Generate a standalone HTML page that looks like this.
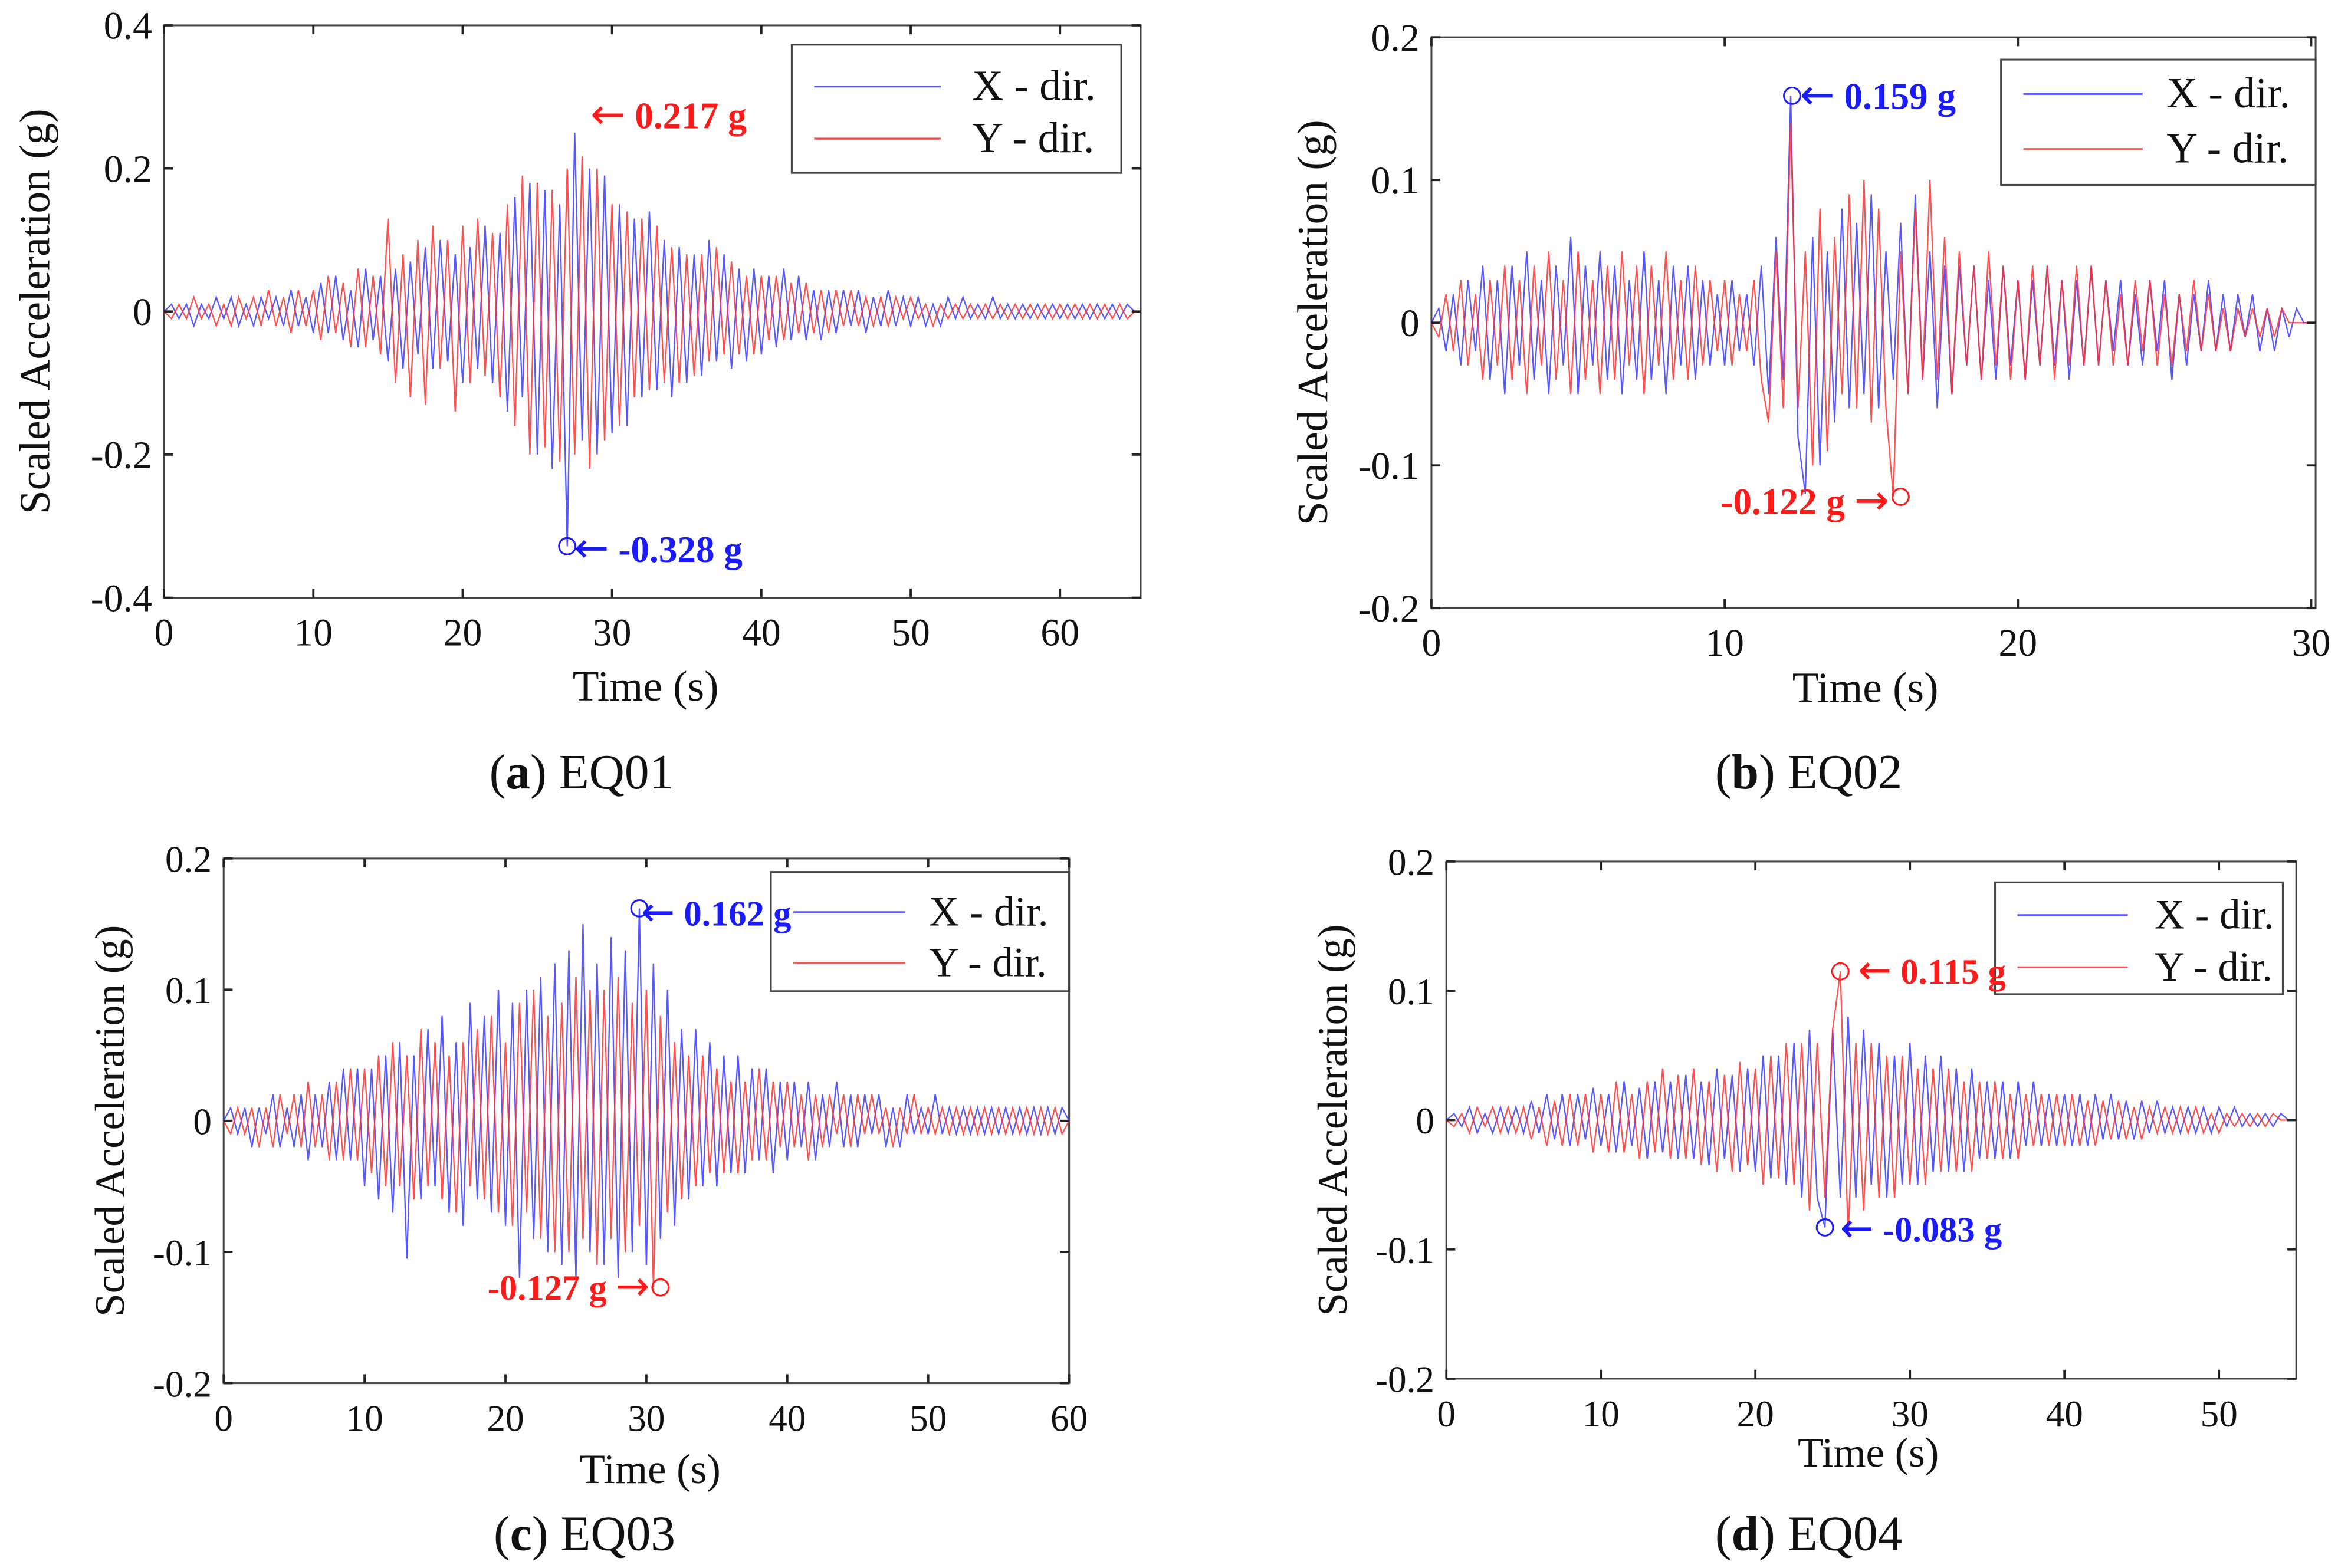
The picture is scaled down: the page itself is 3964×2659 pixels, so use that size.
<!DOCTYPE html>
<html><head><meta charset="utf-8">
<style>
html,body{margin:0;padding:0;background:#fff;}
svg{display:block;}
text{font-family:"Liberation Serif",serif;}
</style></head>
<body>
<svg id="fig" width="3964" height="2659" viewBox="0 0 1568 1052" preserveAspectRatio="none" xmlns="http://www.w3.org/2000/svg" font-family="Liberation Serif, serif"></svg>
<script>
// ---------- data (values in g) ----------
const eq01X = [0,0.01,-0.01,0.01,-0.02,0.01,-0.01,0.02,-0.01,0.02,
 -0.02,0.01,-0.02,0.02,-0.01,0.02,-0.02,0.03,-0.02,0.02,
 -0.03,0.04,-0.03,0.05,-0.04,0.03,-0.05,0.06,-0.04,0.05,
 -0.07,0.06,-0.08,0.07,-0.06,0.09,-0.08,0.1,-0.07,0.08,
 -0.1,0.09,-0.08,0.12,-0.1,0.11,-0.14,0.16,-0.12,0.18,
 -0.2,0.17,-0.22,0.15,-0.328,0.25,-0.18,0.2,-0.2,0.19,
 -0.17,0.15,-0.16,0.13,-0.12,0.14,-0.11,0.1,-0.12,0.09,
 -0.1,0.08,-0.09,0.1,-0.07,0.08,-0.08,0.06,-0.07,0.06,
 -0.06,0.05,-0.05,0.06,-0.04,0.05,-0.04,0.03,-0.04,0.03,
 -0.03,0.03,-0.02,0.03,-0.03,0.02,-0.02,0.03,-0.02,0.02,
 -0.02,0.02,-0.02,0.01,-0.02,0.02,-0.01,0.02,-0.01,0.01,
 -0.01,0.02,-0.01,0.01,-0.01,0.01,-0.01,0.01,-0.01,0.01,
 -0.01,0.01,-0.01,0.01,-0.01,0.01,-0.01,0.01,-0.01,0.01,0];
const eq01Y = [0,-0.01,0.01,-0.01,0.02,-0.01,0.01,-0.02,0.01,-0.02,
 0.02,-0.01,0.02,-0.02,0.03,-0.02,0.02,-0.03,0.03,-0.02,
 0.03,-0.04,0.05,-0.03,0.04,-0.05,0.06,-0.05,0.05,-0.06,
 0.13,-0.1,0.08,-0.12,0.1,-0.13,0.12,-0.08,0.1,-0.14,
 0.12,-0.1,0.13,-0.09,0.11,-0.12,0.15,-0.16,0.19,-0.2,
 0.18,-0.19,0.17,-0.21,0.2,-0.2,0.217,-0.22,0.2,-0.18,
 0.15,-0.16,0.14,-0.12,0.13,-0.11,0.12,-0.1,0.09,-0.1,
 0.08,-0.09,0.08,-0.07,0.09,-0.06,0.07,-0.06,0.05,-0.06,
 0.05,-0.04,0.05,-0.04,0.04,-0.03,0.04,-0.03,0.03,-0.03,
 0.03,-0.02,0.03,-0.02,0.02,-0.02,0.02,-0.02,0.02,-0.01,
 0.02,-0.01,0.01,-0.02,0.01,-0.01,0.01,-0.01,0.01,-0.01,
 0.01,-0.01,0.01,-0.01,0.01,-0.01,0.01,-0.01,0.01,-0.01,
 0.01,-0.01,0.01,-0.01,0.01,-0.01,0.01,-0.01,0.01,-0.01,0];
const eq02X = [0,0.01,-0.02,0.02,-0.03,0.03,-0.02,0.04,-0.04,0.03,
 -0.05,0.04,-0.03,0.05,-0.04,0.03,-0.05,0.04,-0.03,0.06,
 -0.05,0.04,-0.03,0.05,-0.04,0.04,-0.05,0.03,-0.04,0.05,
 -0.04,0.03,-0.05,0.04,-0.03,0.04,-0.04,0.03,-0.03,0.02,
 -0.03,0.03,-0.02,0.02,-0.03,0.04,-0.05,0.06,-0.04,0.159,
 -0.08,-0.12,0.06,-0.1,0.05,-0.07,0.08,-0.06,0.07,-0.05,
 0.09,-0.06,0.05,-0.04,0.07,-0.05,0.09,-0.04,0.05,-0.06,
 0.04,-0.05,0.04,-0.03,0.04,-0.04,0.03,-0.04,0.04,-0.03,
 0.03,-0.04,0.03,-0.03,0.04,-0.03,0.03,-0.04,0.03,-0.03,
 0.04,-0.03,0.03,-0.02,0.03,-0.03,0.02,-0.03,0.03,-0.02,
 0.03,-0.04,0.02,-0.03,0.02,-0.02,0.03,-0.02,0.02,-0.02,
 0.02,-0.01,0.02,-0.02,0.01,-0.02,0.01,-0.01,0.01,0,0];
const eq02Y = [0,-0.01,0.02,-0.02,0.03,-0.03,0.02,-0.04,0.03,-0.03,
 0.04,-0.04,0.03,-0.05,0.04,-0.03,0.05,-0.04,0.03,-0.05,
 0.05,-0.04,0.03,-0.05,0.04,-0.04,0.05,-0.03,0.04,-0.05,
 0.04,-0.03,0.05,-0.04,0.03,-0.04,0.04,-0.03,0.03,-0.02,
 0.03,-0.03,0.02,-0.02,0.03,-0.04,-0.07,0.05,-0.06,0.14,
 -0.06,0.05,-0.1,0.08,-0.09,0.06,-0.05,0.09,-0.06,0.1,
 -0.07,0.08,-0.06,-0.122,0.05,-0.05,0.08,-0.04,0.1,-0.04,
 0.06,-0.05,0.05,-0.03,0.04,-0.04,0.05,-0.03,0.04,-0.04,
 0.03,-0.04,0.04,-0.03,0.04,-0.04,0.03,-0.03,0.04,-0.03,
 0.04,-0.03,0.03,-0.03,0.02,-0.03,0.03,-0.02,0.03,-0.03,
 0.02,-0.03,0.02,-0.02,0.03,-0.02,0.02,-0.02,0.01,-0.02,
 0.01,-0.01,0.01,-0.01,0.01,-0.01,0.01,0,0,0,0];
const eq03X = [0,0.01,-0.01,0.01,-0.02,0.01,-0.01,0.02,-0.02,0.01,
 -0.02,0.02,-0.03,0.02,-0.02,0.03,-0.03,0.04,-0.03,0.04,
 -0.05,0.04,-0.06,0.05,-0.07,0.06,-0.105,0.05,-0.06,0.07,
 -0.05,0.08,-0.07,0.06,-0.08,0.09,-0.06,0.08,-0.07,0.1,
 -0.08,0.09,-0.12,0.1,-0.09,0.11,-0.1,0.12,-0.11,0.13,
 -0.12,0.15,-0.1,0.12,-0.11,0.14,-0.12,0.13,-0.1,0.162,
 -0.11,0.12,-0.09,0.1,-0.08,0.07,-0.06,0.07,-0.05,0.06,
 -0.05,0.05,-0.04,0.05,-0.04,0.04,-0.03,0.04,-0.04,0.03,
 -0.03,0.03,-0.02,0.03,-0.03,0.02,-0.02,0.03,-0.02,0.02,
 -0.02,0.02,-0.01,0.02,-0.02,0.01,-0.02,0.02,-0.01,0.01,
 -0.01,0.02,-0.01,0.01,-0.01,0.01,-0.01,0.01,-0.01,0.01,
 -0.01,0.01,-0.01,0.01,-0.01,0.01,-0.01,0.01,-0.01,0.01,0];
const eq03Y = [0,-0.01,0.01,-0.01,0.01,-0.02,0.01,-0.02,0.02,-0.01,
 0.02,-0.02,0.03,-0.02,0.02,-0.03,0.03,-0.03,0.04,-0.03,
 0.04,-0.04,0.05,-0.05,0.06,-0.05,0.05,-0.06,0.07,-0.05,
 0.06,-0.06,0.05,-0.07,0.06,-0.05,0.07,-0.06,0.08,-0.07,
 0.06,-0.08,0.09,-0.07,0.1,-0.09,0.08,-0.1,0.09,-0.1,
 0.11,-0.09,0.1,-0.11,0.1,-0.09,0.11,-0.1,0.09,-0.08,
 0.1,-0.127,0.08,-0.07,0.06,-0.06,0.05,-0.05,0.05,-0.04,
 0.04,-0.04,0.03,-0.04,0.03,-0.03,0.04,-0.03,0.03,-0.02,
 0.03,-0.02,0.02,-0.03,0.02,-0.02,0.02,-0.01,0.02,-0.02,
 0.02,-0.01,0.02,-0.01,0.01,-0.02,0.01,-0.01,0.02,-0.01,
 0.01,-0.01,0.01,-0.01,0.01,-0.01,0.01,-0.01,0.01,-0.01,
 0.01,-0.01,0.01,-0.01,0.01,-0.01,0.01,-0.01,0.01,-0.01,0];
const eq04X = [0,0.005,-0.005,0.01,-0.01,0.005,-0.01,0.01,-0.01,0.01,
 -0.01,0.015,-0.01,0.02,-0.015,0.02,-0.02,0.02,-0.015,0.025,
 -0.02,0.02,-0.025,0.03,-0.02,0.025,-0.03,0.03,-0.025,0.03,
 -0.03,0.035,-0.03,0.03,-0.035,0.04,-0.03,0.035,-0.04,0.04,
 -0.04,0.05,-0.045,0.05,-0.05,0.06,-0.06,0.07,-0.06,-0.083,
 0.07,-0.06,0.08,-0.06,0.07,-0.05,0.06,-0.06,0.05,-0.05,
 0.06,-0.05,0.05,-0.04,0.05,-0.04,0.04,-0.04,0.04,-0.03,
 0.03,-0.03,0.03,-0.03,0.03,-0.02,0.03,-0.02,0.02,-0.02,
 0.02,-0.02,0.02,-0.02,0.02,-0.015,0.02,-0.015,0.015,-0.015,
 0.015,-0.01,0.015,-0.01,0.01,-0.01,0.01,-0.01,0.01,-0.01,
 0.01,-0.005,0.01,-0.005,0.005,-0.005,0.005,-0.005,0.005,0,0];
const eq04Y = [0,-0.005,0.005,-0.01,0.01,-0.005,0.01,-0.01,0.01,-0.01,
 0.01,-0.015,0.01,-0.02,0.015,-0.02,0.02,-0.02,0.02,-0.025,
 0.02,-0.025,0.03,-0.025,0.02,-0.03,0.03,-0.025,0.04,-0.03,
 0.035,-0.03,0.04,-0.035,0.03,-0.04,0.035,-0.04,0.045,-0.035,
 0.04,-0.05,0.05,-0.045,0.06,-0.05,0.06,-0.07,0.06,-0.06,
 0.07,0.115,-0.09,0.06,-0.07,0.06,-0.06,0.05,-0.06,0.05,
 -0.05,0.04,-0.05,0.04,-0.04,0.04,-0.04,0.03,-0.04,0.03,
 -0.03,0.03,-0.03,0.02,-0.03,0.02,-0.02,0.02,-0.02,0.02,
 -0.02,0.02,-0.02,0.015,-0.02,0.015,-0.015,0.015,-0.015,0.01,
 -0.015,0.01,-0.01,0.01,-0.01,0.01,-0.01,0.01,-0.01,0.005,
 -0.01,0.005,-0.005,0.005,-0.005,0.005,-0.005,0.005,0,0,0];

const ticksA = [0,10,20,30,40,50,60], ticksB = [0,10,20,30], ticksC = [0,10,20,30,40,50,60], ticksD = [0,10,20,30,40,50];
const yTicksA = [0.4,0.2,0,-0.2,-0.4], yLabA = ["0.4","0.2","0","-0.2","-0.4"];
const yTicks2 = [0.2,0.1,0,-0.1,-0.2], yLab2 = ["0.2","0.1","0","-0.1","-0.2"];

const NS = "http://www.w3.org/2000/svg";
const fig = document.getElementById('fig');
function el(tag, attrs, parent, txt){
  const e = document.createElementNS(NS, tag);
  for (const k in attrs) e.setAttribute(k, attrs[k]);
  if (txt !== undefined) e.textContent = txt;
  (parent || fig).appendChild(e);
  return e;
}
const ARW = 'DejaVu Sans, sans-serif';

function panel(p){
  const g = el('g', {});
  
  
  const sx = t => p.L + (t / p.tMax) * (p.R - p.L);
  const sy = v => p.B - (v - p.yMin) / (p.yMax - p.yMin) * (p.B - p.T);
  const xr = p.xRight;
  const box = el('rect', {x:p.L, y:p.T, width:xr - p.L, height:p.B - p.T, fill:'none', stroke:'#444', 'stroke-width':1.2}, g);
  
  
  [[p.x, '#3a3aff', 'x-dir-series'], [p.y, '#ff3030', 'y-dir-series']].forEach(([arr, col, nm]) => {
    const n = arr.length;
    const d = arr.map((v, i) => (i ? 'L' : 'M') + sx(i * p.tMax / (n - 1)).toFixed(2) + ',' + sy(v).toFixed(2)).join('');
    const path = el('path', {d:d, fill:'none', stroke:col, 'stroke-width':0.9, 'stroke-opacity':0.85}, g);
    
    
  });
  p.xt.forEach(t => {
    const x = sx(t);
    el('line', {x1:x, y1:p.B, x2:x, y2:p.B - 6, stroke:'#222', 'stroke-width':1.5}, g);
    el('line', {x1:x, y1:p.T, x2:x, y2:p.T + 6, stroke:'#222', 'stroke-width':1.5}, g);
    const lab = el('text', {x:x, y:p.B + 32, 'font-size':p.fs, 'text-anchor':'middle', fill:'#111'}, g, String(t));
    
    
  });
  p.yt.forEach((v, i) => {
    const y = sy(v);
    el('line', {x1:p.L, y1:y, x2:p.L + 6, y2:y, stroke:'#222', 'stroke-width':1.5}, g);
    el('line', {x1:xr, y1:y, x2:xr - 6, y2:y, stroke:'#222', 'stroke-width':1.5}, g);
    const lab = el('text', {x:p.L - 8, y:y + 9, 'font-size':p.fs, 'text-anchor':'end', fill:'#111'}, g, p.yl[i]);
    
    
  });
  const xt = el('text', {x:p.xtX, y:p.xtY, 'font-size':p.fs + 3, 'text-anchor':'middle', fill:'#111'}, g, 'Time (s)');
  
  
  const yt = el('text', {x:0, y:0, 'font-size':p.fs + 3, 'text-anchor':'middle', fill:'#111', transform:`translate(${p.ytX},${(p.T + p.B) / 2}) rotate(-90)`}, g, 'Scaled Acceleration (g)');
  
  
  const lg = el('g', {}, g);
  
  
  const Lg = p.leg;
  el('rect', {x:Lg.x, y:Lg.y, width:Lg.w, height:Lg.h, fill:'#fff', stroke:'#444', 'stroke-width':1.2}, lg);
  [['X - dir.', '#5a5aff', Lg.y1], ['Y - dir.', '#ff5050', Lg.y2]].forEach(([t, c, yy]) => {
    el('line', {x1:Lg.x + 15, y1:yy, x2:Lg.x + 15 + Lg.ll, y2:yy, stroke:c, 'stroke-width':1.3}, lg);
    const tx = el('text', {x:Lg.tx, y:yy + 9, 'font-size':p.fs + 3, fill:'#111'}, lg, t);
    
    
  });
  p.ann.forEach(a => {
    if (a.circle !== false) el('circle', {cx:sx(a.t), cy:sy(a.v), r:5.5, fill:'none', stroke:a.c, 'stroke-width':1.2}, g);
    const tx = el('text', {x:a.tx, y:a.ty, 'font-size':p.fs - 1, 'font-weight':'bold', fill:a.c}, g);
    
    
    if (a.left) { el('tspan', {'font-family':ARW, 'font-weight':'normal', 'font-size':p.fs + 2}, tx, '\u2190'); el('tspan', {}, tx, ' ' + a.s); }
    else { el('tspan', {}, tx, a.s + ' '); el('tspan', {'font-family':ARW, 'font-weight':'normal', 'font-size':p.fs + 2}, tx, '\u2192'); }
  });
  const cap = el('text', {x:p.capX, y:p.capY, 'font-size':33, 'text-anchor':'middle', fill:'#111'}, g);
  
  
  el('tspan', {}, cap, '(');
  el('tspan', {'font-weight':'bold'}, cap, p.capL);
  el('tspan', {}, cap, ') ' + p.capT);
}

panel({name:'panel-eq01', L:110, R:761, xRight:765, T:17, B:401, tMax:65, yMin:-0.4, yMax:0.4,
  x:eq01X, y:eq01Y, xt:ticksA, yt:yTicksA, yl:yLabA, fs:26, xtX:433, xtY:470, ytX:33,
  leg:{x:531, y:30, w:221, h:86, y1:58, y2:93, ll:85, tx:652},
  ann:[{t:27, v:-0.328, c:'#1a1aff', s:'-0.328 g', tx:385, ty:377, left:true},
       {t:28.6, v:0.25, c:'#ff1a1a', s:'0.217 g', tx:396, ty:86, left:true, circle:false}],
  capX:390, capY:529, capL:'a', capT:'EQ01'});
panel({name:'panel-eq02', L:960, R:1550, xRight:1553, T:25, B:408, tMax:30, yMin:-0.2, yMax:0.2,
  x:eq02X, y:eq02Y, xt:ticksB, yt:yTicks2, yl:yLab2, fs:26, xtX:1251, xtY:471, ytX:890,
  leg:{x:1342, y:40, w:211, h:84, y1:63, y2:100, ll:80, tx:1453},
  ann:[{t:12.3, v:0.159, c:'#1a1aff', s:'0.159 g', tx:1207, ty:73, left:true},
       {t:16, v:-0.122, c:'#ff1a1a', s:'-0.122 g', tx:1154, ty:345, left:false}],
  capX:1213, capY:529, capL:'b', capT:'EQ02'});
panel({name:'panel-eq03', L:150, R:717, xRight:717, T:576, B:928, tMax:60, yMin:-0.2, yMax:0.2,
  x:eq03X, y:eq03Y, xt:ticksC, yt:yTicks2, yl:yLab2, fs:25, xtX:436, xtY:995, ytX:83,
  leg:{x:517, y:585, w:200, h:80, y1:612, y2:646, ll:75, tx:623},
  ann:[{t:29.5, v:0.162, c:'#1a1aff', s:'0.162 g', tx:430, ty:621, left:true},
       {t:31, v:-0.127, c:'#ff1a1a', s:'-0.127 g', tx:327, ty:872, left:false}],
  capX:392, capY:1040, capL:'c', capT:'EQ03'});
panel({name:'panel-eq04', L:970, R:1540, xRight:1540, T:578, B:925, tMax:55, yMin:-0.2, yMax:0.2,
  x:eq04X, y:eq04Y, xt:ticksD, yt:yTicks2, yl:yLab2, fs:25, xtX:1253, xtY:984, ytX:903,
  leg:{x:1338, y:592, w:193, h:75, y1:614, y2:649, ll:74, tx:1445},
  ann:[{t:25.5, v:0.115, c:'#ff1a1a', s:'0.115 g', tx:1246, ty:660, left:true},
       {t:24.5, v:-0.083, c:'#1a1aff', s:'-0.083 g', tx:1234, ty:833, left:true}],
  capX:1213, capY:1040, capL:'d', capT:'EQ04'});
</script>
</body></html>
